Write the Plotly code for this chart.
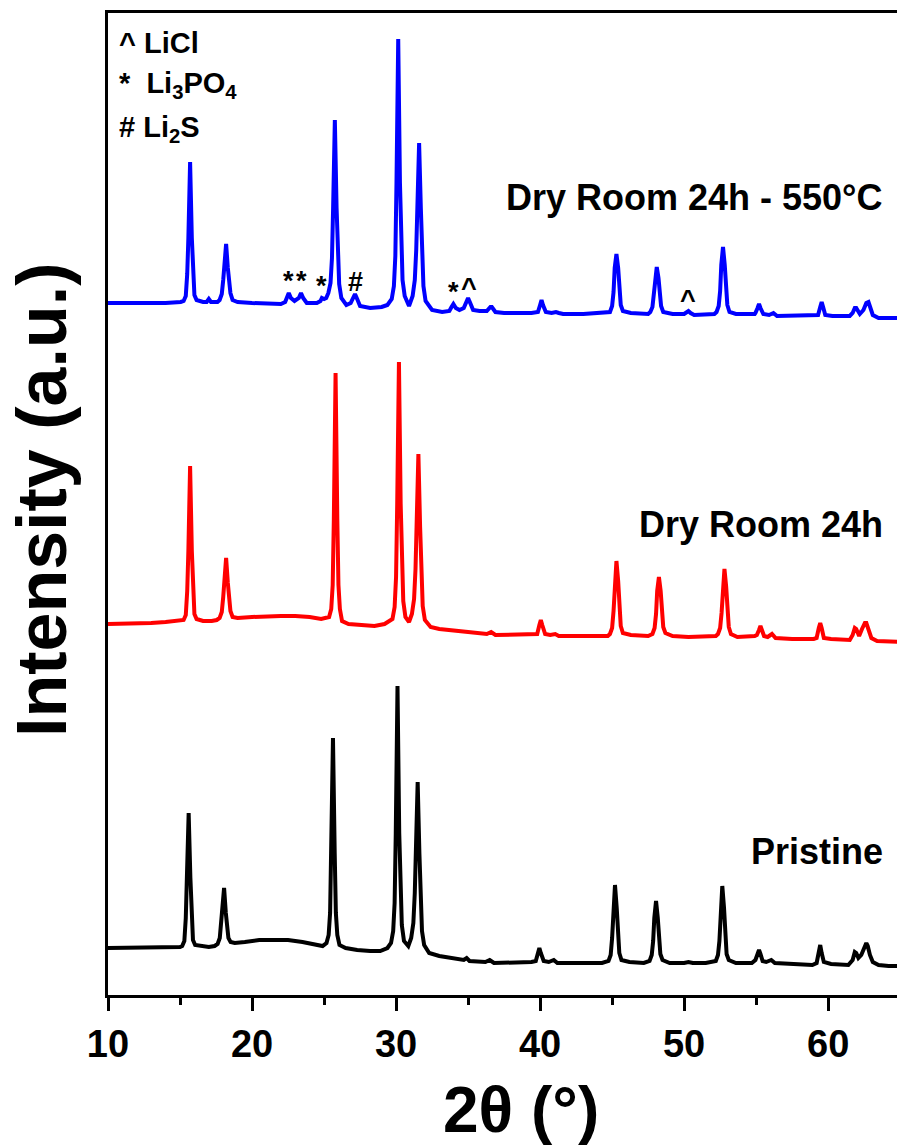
import numpy as np
import plotly.graph_objects as go

# ---- XRD patterns: 2theta (deg) and intensity (a.u.), each pattern relative to its own baseline ----
pristine_2theta = [
    10, 11, 12, 13, 14, 15.0,
    15.15, 15.3, 15.4, 15.48, 15.6, 15.72, 15.8, 15.9, 16.05,
    16.5, 17.0, 17.4,
    17.61, 17.76, 17.86, 17.94, 18.06, 18.18, 18.26, 18.36, 18.51,
    18.8, 19.5, 20.5, 21.5, 22.5, 23.5, 24.3, 24.9,
    25.17, 25.32, 25.42, 25.5, 25.62, 25.74, 25.82, 25.92, 26.07,
    26.5, 27.3, 28.2, 28.9, 29.4,
    29.65, 29.8, 29.9, 29.98, 30.1, 30.22, 30.3, 30.4, 30.55,
    30.85,
    31.05, 31.2, 31.3, 31.38, 31.5, 31.62, 31.7, 31.8, 31.95,
    32.3, 33, 34, 34.7, 34.9, 35.1, 36.2, 36.5, 36.8, 38, 39.4,
    39.7, 39.85, 39.95, 40.05, 40.25,
    40.6, 40.95, 41.2, 42.5, 44.3,
    44.75, 44.9, 45.0, 45.08, 45.2, 45.32, 45.4, 45.5, 45.65,
    46.2, 47.2,
    47.6, 47.75, 47.85, 47.93, 48.05, 48.17, 48.25, 48.35, 48.5,
    49, 50.0, 50.3, 50.6, 51.5,
    52.2, 52.35, 52.45, 52.53, 52.65, 52.77, 52.85, 52.95, 53.1,
    53.6, 54.7,
    54.95, 55.1, 55.2, 55.3, 55.45, 55.7, 56.05, 56.3, 57.5, 58.9,
    59.2, 59.35, 59.45, 59.55, 59.7, 60.2, 61.4,
    61.7, 61.85, 61.95, 62.1, 62.3, 62.5, 62.65, 62.75, 62.9, 63.1, 63.5, 64.2, 65]
pristine_int = [
    45, 45, 45, 46, 46, 46,
    47, 52, 75, 115, 180, 115, 75, 53, 48,
    47, 46, 47,
    49, 55, 70, 80, 105, 80, 66, 55, 51,
    50, 51, 53, 53, 53, 51, 49, 47,
    50, 58, 80, 140, 255, 140, 80, 58, 48,
    45, 43, 42, 42, 45,
    50, 62, 90, 160, 307, 160, 95, 68, 52,
    47,
    55, 70, 100, 140, 211, 140, 95, 62, 48,
    40, 37, 35, 33, 35, 32, 31, 33, 30, 30, 31,
    32, 40, 45, 40, 32,
    31, 33, 30, 30, 30,
    32, 38, 55, 85, 108, 85, 55, 40, 33,
    31, 30,
    32, 38, 52, 75, 92, 75, 52, 39, 33,
    30, 30, 31, 30, 30,
    32, 38, 52, 85, 107, 85, 52, 39, 33,
    30, 30,
    33, 39, 43, 39, 32, 31, 33, 30, 29, 28,
    30, 40, 48, 40, 31, 29, 28,
    33, 41, 40, 35, 38, 46, 50, 47, 38, 31, 28, 27, 27]

dry24_2theta = [
    10, 11, 12, 13, 14, 15.0,
    15.25, 15.4, 15.5, 15.58, 15.7, 15.82, 15.9, 16.0, 16.15,
    16.6, 17.2, 17.55,
    17.75, 17.9, 18.0, 18.08, 18.2, 18.32, 18.4, 18.5, 18.65,
    19, 20, 21, 22, 23, 24, 24.8,
    25.35, 25.5, 25.6, 25.68, 25.8, 25.92, 26.0, 26.1, 26.25,
    26.7, 27.5, 28.5, 29.2,
    29.75, 29.9, 30.0, 30.08, 30.2, 30.32, 30.4, 30.5, 30.65,
    30.9,
    31.1, 31.25, 31.35, 31.43, 31.55, 31.67, 31.75, 31.85, 32.0,
    32.4, 33, 34, 35, 36.3, 36.6, 36.9, 38, 39.5,
    39.8, 39.95, 40.05, 40.15, 40.35,
    40.7, 41.05, 41.3, 43, 44.7,
    44.85, 45.0, 45.1, 45.18, 45.3, 45.42, 45.5, 45.6, 45.75,
    46.3, 47.5,
    47.8, 47.95, 48.05, 48.13, 48.25, 48.37, 48.45, 48.55, 48.7,
    49.2, 50.3, 51.5, 52.2,
    52.35, 52.5, 52.6, 52.68, 52.8, 52.92, 53.0, 53.1, 53.25,
    53.7, 54.9,
    55.05, 55.2, 55.3, 55.4, 55.55, 55.8, 56.1, 56.35, 57.5, 59.0,
    59.2, 59.35, 59.45, 59.55, 59.7, 60.2, 61.5,
    61.7, 61.85, 61.95, 62.15, 62.35, 62.55, 62.65, 62.8, 63.0, 63.4, 64.2, 65]
dry24_int = [
    45, 45, 46, 46, 47, 48,
    49, 54, 78, 118, 203, 118, 78, 55, 50,
    48, 48, 49,
    51, 57, 72, 86, 111, 86, 71, 58, 52,
    51, 52, 53, 53, 53, 52, 50,
    52, 60, 84, 150, 296, 150, 84, 60, 48,
    45, 44, 43, 45,
    50, 62, 92, 165, 307, 165, 95, 68, 52,
    47,
    55, 70, 100, 142, 215, 142, 96, 63, 49,
    42, 40, 38, 37, 35, 37, 34, 34, 34,
    35, 44, 49, 44, 35,
    34, 35, 33, 33, 33,
    35, 41, 58, 88, 108, 88, 58, 43, 36,
    34, 33,
    35, 41, 55, 78, 92, 78, 55, 42, 36,
    33, 32, 32, 33,
    35, 41, 56, 82, 100, 82, 56, 42, 35,
    32, 33,
    34, 39, 43, 39, 33, 32, 35, 31, 30, 30,
    31, 41, 46, 41, 31, 30, 29,
    34, 41, 40, 33, 40, 46, 46, 40, 31, 28, 27, 27]

dry24_550_2theta = [
    10, 11, 12, 13, 14, 15.05,
    15.25, 15.4, 15.5, 15.58, 15.7, 15.82, 15.9, 16.0, 16.15,
    16.6, 16.85, 17.0, 17.15, 17.6,
    17.75, 17.9, 18.0, 18.08, 18.2, 18.32, 18.4, 18.5, 18.65,
    19, 20, 21, 22, 22.3, 22.45, 22.55, 22.7, 22.95, 23.25, 23.4, 23.55, 23.8,
    24.5, 24.75, 24.85, 25.0, 25.15,
    25.3, 25.45, 25.55, 25.63, 25.75, 25.87, 25.95, 26.05, 26.2,
    26.55, 26.85, 27.0, 27.15, 27.3, 27.5, 28.2, 29.0, 29.4,
    29.7, 29.85, 29.95, 30.03, 30.15, 30.27, 30.35, 30.45, 30.6,
    30.9,
    31.15, 31.3, 31.4, 31.48, 31.6, 31.72, 31.8, 31.9, 32.05,
    32.5, 33.2, 33.7, 33.85, 33.98, 34.15, 34.4, 34.7, 34.88, 35.0, 35.12, 35.35,
    35.8, 36.3, 36.55, 36.65, 36.9, 37.5, 39.4,
    39.85, 40.0, 40.1, 40.2, 40.4,
    40.8, 41.1, 41.3, 41.6, 43, 44.7,
    44.85, 45.0, 45.1, 45.18, 45.3, 45.42, 45.5, 45.6, 45.75,
    46.3, 47.5,
    47.65, 47.8, 47.9, 47.98, 48.1, 48.22, 48.3, 48.4, 48.55,
    49.2, 50.0, 50.2, 50.3, 50.45, 50.7, 52.1,
    52.25, 52.4, 52.5, 52.58, 52.7, 52.82, 52.9, 53.0, 53.15,
    53.6, 54.9,
    54.95, 55.1, 55.2, 55.3, 55.5, 55.9, 56.2, 56.45, 57.5, 59.2,
    59.3, 59.45, 59.55, 59.65, 59.8, 60.3, 61.5,
    61.7, 61.85, 61.95, 62.2, 62.45, 62.65, 62.8, 62.9, 63.1, 63.5, 64.2, 65]
dry24_550_int = [
    45, 45, 44, 45, 45, 46,
    47, 52, 74, 110, 186, 110, 74, 53, 48,
    46, 46, 49, 46, 46,
    48, 54, 68, 80, 104, 80, 67, 55, 48,
    46, 45, 45, 44, 46, 52, 55, 50, 47, 50, 55, 50, 45,
    45, 47, 50, 49, 50,
    55, 65, 90, 140, 228, 140, 88, 64, 50,
    43, 45, 50, 54, 49, 42, 40, 41, 43,
    49, 62, 92, 165, 309, 165, 95, 68, 52,
    42,
    52, 68, 98, 140, 205, 140, 94, 62, 47,
    38, 36, 37, 41, 44, 40, 38, 40, 46, 50, 46, 38,
    37, 37, 41, 41, 36, 35, 35,
    36, 43, 48, 43, 36,
    35, 36, 35, 34, 34, 35,
    36, 42, 56, 80, 94, 80, 56, 43, 37,
    35, 34,
    36, 41, 53, 70, 81, 70, 53, 42, 36,
    34, 34, 36, 37, 35, 33, 34,
    36, 42, 57, 83, 101, 83, 57, 43, 36,
    34, 34,
    35, 40, 44, 40, 34, 33, 35, 32, 32, 32,
    33, 41, 46, 41, 33, 32, 32,
    35, 40, 40, 34, 38, 45, 46, 41, 33, 30, 30, 30]

series_names = ["Pristine", "Dry Room 24h", "Dry Room 24h - 550°C"]
series_offsets = [0, 324, 645]
series_colors = ["#000000", "#ff0000", "#0000ff"]

# impurity reflections marked on the annealed pattern
phase_mark_symbols = ["*", "*", "*", "#", "*", "^", "^"]
phase_mark_2theta = [22.55, 23.4, 24.85, 27.15, 34.0, 35.05, 50.25]

# x-axis ticks
x_tick_vals = [10, 20, 30, 40, 50, 60]
x_tick_text = ["10", "20", "30", "40", "50", "60"]
x_minor_vals = [15, 25, 35, 45, 55, 65]

FONT = "Liberation Sans, Arial, sans-serif"

fig = go.Figure()
patterns = [(pristine_2theta, pristine_int), (dry24_2theta, dry24_int), (dry24_550_2theta, dry24_550_int)]
for (tt, inten), name, off, col in zip(patterns, series_names, series_offsets, series_colors):
    fig.add_trace(go.Scatter(
        x=tt, y=np.array(inten) + off, mode="lines", name=name,
        line=dict(color=col, width=4), showlegend=False, hoverinfo="skip"))

# sample labels, right aligned above each pattern
label_y = [142, 469, 796]
for name, ly in zip(series_names, label_y):
    fig.add_annotation(x=63.96, y=ly, xref="x", yref="y", text=f"<b>{name}</b>",
                       showarrow=False, xanchor="right", yanchor="middle",
                       font=dict(family=FONT, size=36, color="black"))

# phase key in the upper-left corner
key_lines = ["^ LiCl", "*&nbsp;&nbsp;Li<sub>3</sub>PO<sub>4</sub>", "# Li<sub>2</sub>S"]
key_y = [950, 908, 864]
for txt, ky in zip(key_lines, key_y):
    fig.add_annotation(x=10.65, y=ky, xref="x", yref="y", text=f"<b>{txt}</b>",
                       showarrow=False, xanchor="left", yanchor="middle",
                       font=dict(family=FONT, size=29, color="black"))

# phase markers sit just above the corresponding reflections
blue_abs = np.array(dry24_550_int) + series_offsets[2]
for sym, tt in zip(phase_mark_symbols, phase_mark_2theta):
    peak_top = float(np.interp(tt, dry24_550_2theta, blue_abs))
    fig.add_annotation(x=tt, y=peak_top, xref="x", yref="y", text=f"<b>{sym}</b>",
                       showarrow=False, xanchor="center", yanchor="bottom", yshift=-5,
                       font=dict(family=FONT, size=27, color="black"))

# axis titles
fig.add_annotation(x=0.5234, y=-0.117, xref="paper", yref="paper", text="<b>2θ (°)</b>",
                   showarrow=False, xanchor="center", yanchor="middle",
                   font=dict(family=FONT, size=64, color="black"))
fig.add_annotation(x=-0.0837, y=0.504, xref="paper", yref="paper", text="<b>Intensity (a.u.)</b>",
                   showarrow=False, xanchor="center", yanchor="middle", textangle=-90,
                   font=dict(family=FONT, size=70, color="black"))

fig.update_layout(
    width=897, height=1146,
    margin=dict(l=108, r=0, t=13, b=151),
    paper_bgcolor="white", plot_bgcolor="white",
    font=dict(family=FONT, color="black"),
)
fig.update_xaxes(
    range=[10, 64.78], showgrid=False, zeroline=False,
    showline=True, linecolor="black", linewidth=3, mirror=True,
    ticks="outside", ticklen=13, tickwidth=3, tickcolor="black",
    tickvals=x_tick_vals, ticktext=x_tick_text,
    tickfont=dict(family=FONT, size=38, color="black", weight="bold"),
    minor=dict(tickvals=x_minor_vals, ticks="outside", ticklen=7, tickwidth=3, tickcolor="black"),
)
fig.update_yaxes(
    range=[-2, 980], showgrid=False, zeroline=False,
    showline=True, linecolor="black", linewidth=3, mirror=False,
    showticklabels=False, ticks="",
)

fig.write_html("out.html")
